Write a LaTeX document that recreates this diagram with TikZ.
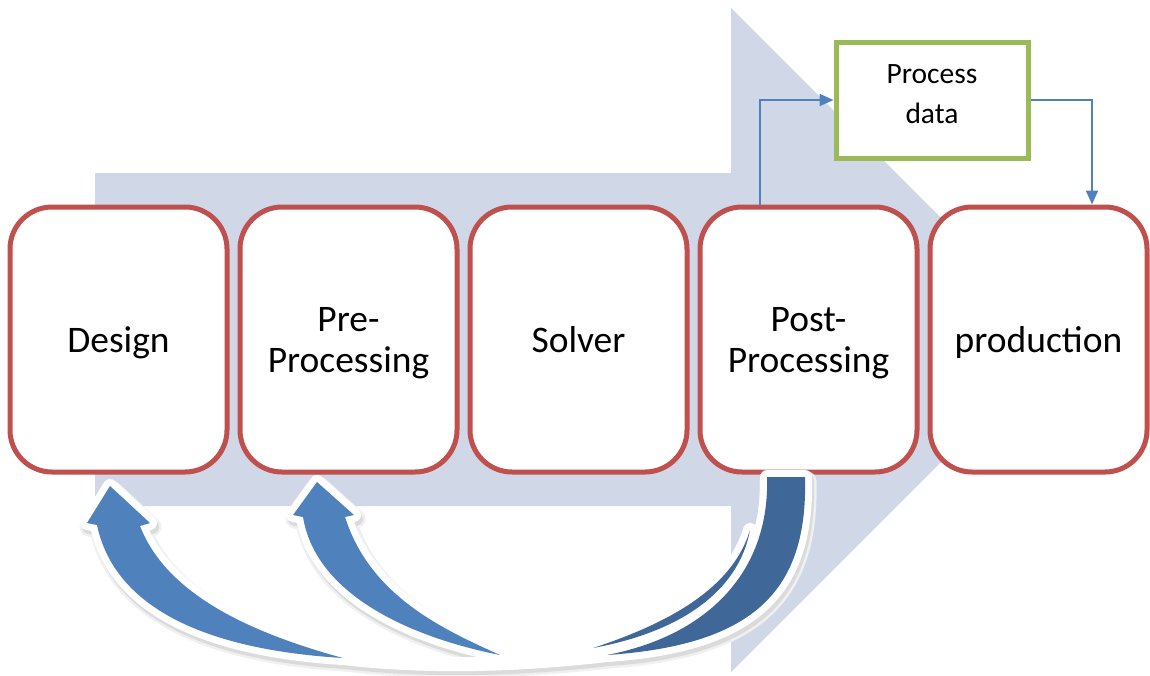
\documentclass[tikz,border=0pt]{standalone}
\usepackage{fontspec}
\setmainfont{Carlito}
\usetikzlibrary{arrows.meta}
\definecolor{bgarrow}{HTML}{D0D8E8}
\definecolor{boxred}{HTML}{C0504D}
\definecolor{boxgreen}{HTML}{9BBB59}
\definecolor{lineblue}{HTML}{4F81BD}
\definecolor{ribbonlight}{HTML}{4F81BD}
\definecolor{ribbondark}{HTML}{3F6797}

% ribbon A : Post-Processing -> Design
\newcommand\ribbonA{(97,525) -- (87,523) -- (110,486) -- (150,523) -- (140,526)
  .. controls (165,590) and (240,630) .. (343,658)
  .. controls (430,668) and (520,665) .. (607,655)
  .. controls (710,635) and (770,570) .. (767,477) -- (805,477)
  .. controls (808,590) and (755,645) .. (607,655)
  .. controls (520,665) and (430,668) .. (343,658)
  .. controls (210,650) and (115,610) .. (97,525) -- cycle}
\newcommand\lightA{(97,525) -- (87,523) -- (110,486) -- (150,523) -- (140,526)
  .. controls (165,590) and (240,630) .. (343,658)
  .. controls (210,650) and (115,610) .. (97,525) -- cycle}
\newcommand\darkA{(767,477) -- (805,477)
  .. controls (808,590) and (755,645) .. (607,655)
  .. controls (710,635) and (770,570) .. (767,477) -- cycle}
% ribbon B : Post-Processing -> Pre-Processing
\newcommand\ribbonB{(303,517) -- (293,515) -- (317,482) -- (354,515) -- (345,517)
  .. controls (370,595) and (440,628) .. (500,655)
  .. controls (540,657) and (570,653) .. (593,648)
  .. controls (685,618) and (735,580) .. (750,530)
  .. controls (740,585) and (690,630) .. (593,648)
  .. controls (570,653) and (540,657) .. (500,655)
  .. controls (400,635) and (315,590) .. (303,517) -- cycle}
\newcommand\lightB{(303,517) -- (293,515) -- (317,482) -- (354,515) -- (345,517)
  .. controls (370,595) and (440,628) .. (500,655)
  .. controls (400,635) and (315,590) .. (303,517) -- cycle}
\newcommand\darkB{(750,530) .. controls (740,585) and (690,630) .. (593,648)
  .. controls (685,618) and (735,580) .. (750,530) -- cycle}

\begin{document}
\begin{tikzpicture}[x=1pt,y=-1pt,
  stagebox/.style={draw=boxred, line width=5pt, fill=white, rounded corners=42pt,
    minimum width=217pt, minimum height=265pt, inner sep=0pt, align=center,
    text depth=0pt, font=\fontsize{37.5}{41}\selectfont},
  databox/.style={draw=boxgreen, line width=5pt, fill=white, minimum width=192pt,
    minimum height=116pt, inner sep=0pt, align=center, text depth=12pt,
    font=\fontsize{29.5}{40}\selectfont},
  flow/.style={draw=lineblue, line width=2pt, -{Triangle[length=14pt,width=12pt]}},
  ribbonedge/.style={draw=white, fill=white, line width=14pt, line join=round},
  shadowsoft/.style={draw=black!6, fill=black!6, line width=19pt, line join=round},
  shadowhard/.style={draw=black!14, fill=black!14, line width=14pt, line join=round}
]
\useasboundingbox (0,0) rectangle (1150,675);

% background process arrow
\fill[bgarrow] (95,173) -- (731,173) -- (731,8) -- (1063,340) -- (731,672)
  -- (731,506) -- (95,506) -- cycle;

% stages
\node[stagebox] (design) at (118.5,339.5) {Design};
\node[stagebox] (pre)    at (348.5,339.5) {Pre-\\Processing};
\node[stagebox] (solver) at (578.5,339.5) {Solver};
\node[stagebox] (post)   at (808.5,339.5) {Post-\\Processing};
\node[stagebox] (prod)   at (1038.5,339.5) {production};
\node[databox]  (data)   at (932,100) {Process\\data};

\draw[flow] ([xshift=-48.5pt]post.north) |- (data.west);
\draw[flow] (data.east) -| ([xshift=53.5pt]prod.north);

% ribbon B
\begin{scope}[shift={(2,4)}]
  \path[shadowsoft] \ribbonB;
  \path[shadowhard] \ribbonB;
\end{scope}
\path[ribbonedge] \ribbonB;
\fill[ribbonlight] \lightB;
\fill[ribbondark] \darkB;

% ribbon A
\begin{scope}[shift={(2,4)}]
  \path[shadowsoft] \ribbonA;
  \path[shadowhard] \ribbonA;
\end{scope}
\path[ribbonedge] \ribbonA;
\fill[ribbonlight] \lightA;
\fill[ribbondark] \darkA;
\end{tikzpicture}
\end{document}
